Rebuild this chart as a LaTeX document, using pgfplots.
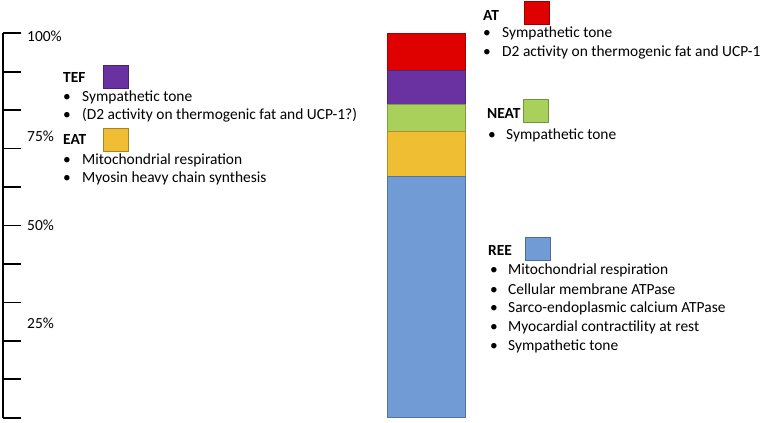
\documentclass[border=0pt]{standalone}
\usepackage{fontspec}
\setmainfont{Carlito}
\usepackage{pgfplots}
\pgfplotsset{compat=1.18}
\definecolor{ree}{HTML}{709BD5}
\definecolor{eat}{HTML}{F0BE32}
\definecolor{neat}{HTML}{A8D05A}
\definecolor{tef}{HTML}{6A32A0}
\definecolor{at}{HTML}{DF0000}

\begin{document}
\fontsize{15.5}{19}\selectfont
\begin{tikzpicture}[x=1bp,y=1bp,
  lbl/.style={anchor=west,inner sep=0pt,font=\bfseries},
  itm/.style={anchor=west,inner sep=0pt},
  sq/.style={rectangle,inner sep=0pt,minimum width=25bp,minimum height=23bp,line width=0.6bp}]
\useasboundingbox (0,0) rectangle (768,422);
\begin{axis}[at={(3bp,4.3bp)},anchor=south west,scale only axis,
  width=762bp,height=384.4bp,xmin=3,xmax=765,ymin=0,ymax=100,
  axis x line=none,axis y line*=left,
  y axis line style={line width=1.6bp},
  ytick={0,10,...,100},yticklabels={},
  tick align=inside,major tick length=18bp,
  tick style={line width=1.6bp,black},
  ybar stacked,bar width=78bp,clip=false]
\addplot[fill=ree,draw=ree!75!black,line width=0.5bp] coordinates {(426,62.7)};
\addplot[fill=eat,draw=eat!75!black,line width=0.5bp] coordinates {(426,11.7)};
\addplot[fill=neat,draw=neat!75!black,line width=0.5bp] coordinates {(426,7.2)};
\addplot[fill=tef,draw=tef!75!black,line width=0.5bp] coordinates {(426,8.8)};
\addplot[fill=at,draw=at!75!black,line width=0.5bp] coordinates {(426,9.6)};
\node[itm] at (axis cs:27,99.1) {100\%};
\node[itm] at (axis cs:27,73.1) {75\%};
\node[itm] at (axis cs:27,50.0) {50\%};
\node[itm] at (axis cs:27,24.6) {25\%};
\end{axis}
% left annotations
\node[lbl] at (63,344.7) {TEF};
\node[sq,fill=tef,draw=tef!70!black] at (116,345.5) {};
\node[itm] at (63,324.7) {\makebox[19bp][l]{\textbullet}Sympathetic tone};
\node[itm] at (63,307) {\makebox[19bp][l]{\textbullet}(D2 activity on thermogenic fat and UCP-1?)};
\node[lbl] at (63,283) {EAT};
\node[sq,fill=eat,draw=eat!70!black] at (116,282) {};
\node[itm] at (63,262) {\makebox[19bp][l]{\textbullet}Mitochondrial respiration};
\node[itm] at (63,244) {\makebox[19bp][l]{\textbullet}Myosin heavy chain synthesis};
% right annotations
\node[lbl] at (483,407) {AT};
\node[sq,fill=at,draw=at!70!black] at (536.5,409) {};
\node[itm] at (483,388.7) {\makebox[19bp][l]{\textbullet}Sympathetic tone};
\node[itm] at (483,369.3) {\makebox[19bp][l]{\textbullet}D2 activity on thermogenic fat and UCP-1};
\node[lbl] at (487,308.7) {NEAT};
\node[sq,fill=neat,draw=neat!70!black] at (536,311) {};
\node[itm] at (488,287) {\makebox[18bp][l]{\textbullet}Sympathetic tone};
\node[lbl] at (488,171.3) {REE};
\node[sq,fill=ree,draw=ree!70!black] at (537.5,173) {};
\node[itm] at (490,152) {\makebox[18bp][l]{\textbullet}Mitochondrial respiration};
\node[itm] at (490,132.7) {\makebox[18bp][l]{\textbullet}Cellular membrane ATPase};
\node[itm] at (490,113.3) {\makebox[18bp][l]{\textbullet}Sarco-endoplasmic calcium ATPase};
\node[itm] at (490,94.3) {\makebox[18bp][l]{\textbullet}Myocardial contractility at rest};
\node[itm] at (490,75.3) {\makebox[18bp][l]{\textbullet}Sympathetic tone};
\end{tikzpicture}
\end{document}
